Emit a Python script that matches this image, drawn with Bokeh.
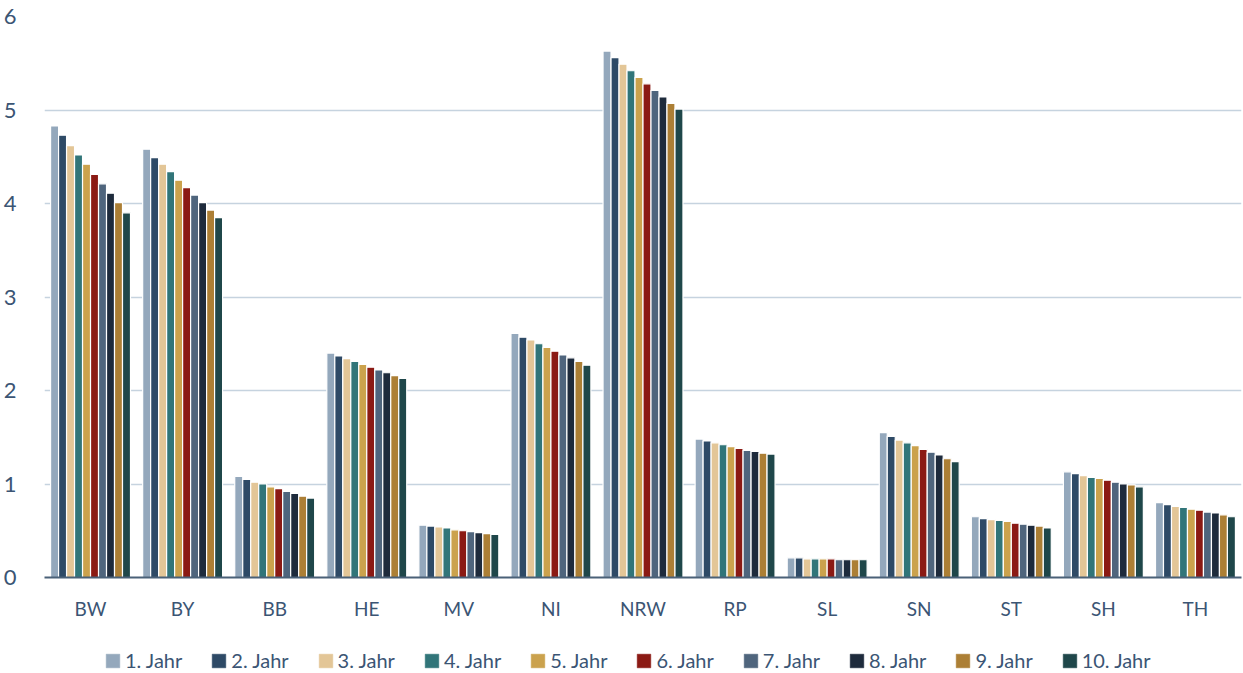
from bokeh.plotting import figure
from bokeh.layouts import column
from bokeh.models import ColumnDataSource, Range1d, Legend, LegendItem, SingleIntervalTicker
from bokeh.transform import dodge
from bokeh.embed import file_html
from bokeh.resources import INLINE

states = ["BW", "BY", "BB", "HE", "MV", "NI", "NRW", "RP", "SL", "SN", "ST", "SH", "TH"]
years = ["1. Jahr", "2. Jahr", "3. Jahr", "4. Jahr", "5. Jahr",
         "6. Jahr", "7. Jahr", "8. Jahr", "9. Jahr", "10. Jahr"]

# one list per federal state, years 1..10
bw = [4.83, 4.73, 4.62, 4.52, 4.42, 4.31, 4.21, 4.11, 4.01, 3.90]
by = [4.58, 4.49, 4.42, 4.34, 4.25, 4.17, 4.09, 4.01, 3.93, 3.85]
bb = [1.08, 1.05, 1.02, 1.00, 0.97, 0.95, 0.92, 0.90, 0.87, 0.85]
he = [2.40, 2.37, 2.34, 2.31, 2.28, 2.25, 2.22, 2.19, 2.16, 2.13]
mv = [0.56, 0.55, 0.54, 0.53, 0.51, 0.50, 0.49, 0.48, 0.47, 0.46]
ni = [2.61, 2.57, 2.54, 2.50, 2.46, 2.42, 2.38, 2.35, 2.31, 2.27]
nrw = [5.63, 5.56, 5.49, 5.42, 5.35, 5.28, 5.21, 5.14, 5.07, 5.01]
rp = [1.48, 1.46, 1.44, 1.42, 1.40, 1.38, 1.36, 1.35, 1.33, 1.32]
sl = [0.21, 0.21, 0.20, 0.20, 0.20, 0.20, 0.19, 0.19, 0.19, 0.19]
sn = [1.55, 1.51, 1.47, 1.44, 1.41, 1.37, 1.34, 1.31, 1.27, 1.24]
st = [0.65, 0.63, 0.62, 0.61, 0.60, 0.58, 0.57, 0.56, 0.55, 0.53]
sh = [1.13, 1.11, 1.09, 1.07, 1.06, 1.04, 1.02, 1.00, 0.99, 0.97]
th = [0.80, 0.78, 0.76, 0.75, 0.73, 0.72, 0.70, 0.69, 0.67, 0.65]

colors = ["#94a8bc", "#2e4a66", "#e3c697", "#317579", "#cba24d",
          "#8b1a14", "#4f657d", "#1e2b3c", "#ac7f35", "#1f474a"]

rows = [bw, by, bb, he, mv, ni, nrw, rp, sl, sn, st, sh, th]
data = {"state": states}
for i in range(len(years)):
    data[f"y{i}"] = [r[i] for r in rows]
source = ColumnDataSource(data)

FONT = "Lato"
TEXT = "#3b5574"
STEP = 0.0868


def add_bars(fig, outline=1.2):
    rs = []
    for i, c in enumerate(colors):
        off = (i - 4.5) * STEP
        rs.append(fig.vbar(x=dodge("state", off, range=fig.x_range), top=f"y{i}",
                           width=STEP, source=source, fill_color=c,
                           line_color="white" if outline else c,
                           line_width=outline if outline else 0.5))
    return rs


# main chart
p = figure(x_range=states, y_range=Range1d(0, 6), width=1243, height=630,
           output_backend="svg", toolbar_location=None,
           min_border_left=43, min_border_right=2, min_border_top=16,
           min_border_bottom=53)
p.outline_line_color = None
add_bars(p)

p.xgrid.grid_line_color = None
p.ygrid.grid_line_color = "#c6d3df"
p.ygrid.grid_line_width = 1.5
p.yaxis.ticker = SingleIntervalTicker(interval=1)

p.yaxis.axis_line_color = None
p.yaxis.major_tick_line_color = None
p.yaxis.minor_tick_line_color = None
p.yaxis.major_label_standoff = 22
p.yaxis.major_label_text_font = FONT
p.yaxis.major_label_text_font_size = "22px"
p.yaxis.major_label_text_color = TEXT

p.xaxis.axis_line_color = "#4a6178"
p.xaxis.axis_line_width = 2
p.xaxis.major_tick_line_color = None
p.xaxis.minor_tick_line_color = None
p.xaxis.major_label_standoff = 13
p.xaxis.major_label_text_font = FONT
p.xaxis.major_label_text_font_size = "19px"
p.xaxis.major_label_text_color = TEXT

# legend strip under the chart; its bars lie outside the visible y range
lg = figure(x_range=states, y_range=Range1d(100, 101), width=1243, height=43,
            output_backend="svg", toolbar_location=None,
            x_axis_type=None, y_axis_type=None, min_border=0)
lg.outline_line_color = None
lg.xgrid.grid_line_color = None
lg.ygrid.grid_line_color = None
lg_renderers = add_bars(lg, outline=0)

legend = Legend(items=[LegendItem(label=y, renderers=[r]) for y, r in zip(years, lg_renderers)],
                orientation="horizontal", location=(60, 1),
                label_text_font=FONT, label_text_font_size="20px",
                label_text_color=TEXT, glyph_width=17, glyph_height=17,
                label_standoff=4, spacing=28, border_line_color=None,
                background_fill_alpha=0, margin=0, padding=0)
lg.add_layout(legend, "center")

layout = column(p, lg, spacing=0)
open("out.html", "w").write(file_html(layout, INLINE))
